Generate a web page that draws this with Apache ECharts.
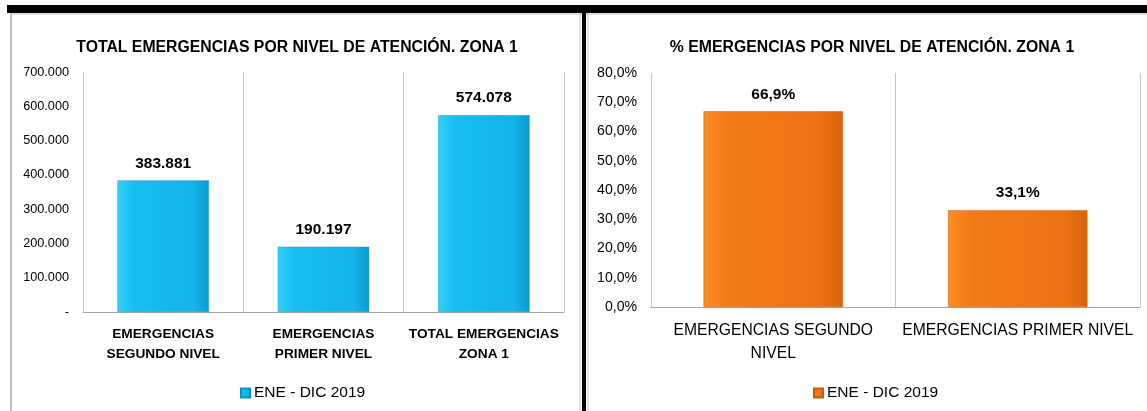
<!DOCTYPE html>
<html>
<head>
<meta charset="utf-8">
<script src="https://cdn.jsdelivr.net/npm/echarts@6/dist/echarts.min.js"></script>
<style>
html, body { margin: 0; padding: 0; background: #fff; }
#main { width: 1147px; height: 411px; }
</style>
</head>
<body>
<div id="main"></div>
<script>
// datos de la imagen
var catsTotal = ['EMERGENCIAS\nSEGUNDO NIVEL', 'EMERGENCIAS\nPRIMER NIVEL', 'TOTAL EMERGENCIAS\nZONA 1'];
var valsTotal = [383881, 190197, 574078];
var catsPct = ['EMERGENCIAS SEGUNDO\nNIVEL', 'EMERGENCIAS PRIMER NIVEL'];
var valsPct = [66.9, 33.1];
var serieName = 'ENE - DIC 2019';
var totalAxis = [0, 700000, 100000];
var pctAxis = [0, 80, 10];

var font = "'Liberation Sans', Arial, sans-serif";

function miles(v) {
    if (v === 0) return '-';
    return String(v).replace(/\B(?=(\d{3})+(?!\d))/g, '.');
}
function pct(v) {
    return v.toFixed(1).replace('.', ',') + '%';
}

var blue = new echarts.graphic.LinearGradient(0, 0, 1, 0, [
    { offset: 0, color: '#34d2f8' },
    { offset: 0.18, color: '#17bdf0' },
    { offset: 0.82, color: '#13b5ea' },
    { offset: 1, color: '#0a9acd' }
]);
var orange = new echarts.graphic.LinearGradient(0, 0, 1, 0, [
    { offset: 0, color: '#f98d22' },
    { offset: 0.18, color: '#f27a18' },
    { offset: 0.82, color: '#ee7214' },
    { offset: 1, color: '#d8630d' }
]);

var myChart = echarts.init(document.getElementById('main'));
var option = {
    backgroundColor: '#fff',
    animation: false,
    textStyle: { fontFamily: font },
    title: [
        {
            text: 'TOTAL EMERGENCIAS POR NIVEL DE ATENCIÓN. ZONA 1',
            left: 292, top: 35, textAlign: 'center',
            textStyle: { fontSize: 15.8, fontWeight: 'bold', color: '#000', fontFamily: font }
        },
        {
            text: '% EMERGENCIAS POR NIVEL DE ATENCIÓN. ZONA 1',
            left: 867, top: 35, textAlign: 'center',
            textStyle: { fontSize: 15.8, fontWeight: 'bold', color: '#000', fontFamily: font }
        }
    ],
    legend: [
        {
            data: [serieName], left: 235, top: 380,
            icon: 'rect', itemWidth: 9, itemHeight: 9, itemGap: 5,
            textStyle: { fontSize: 15.5, color: '#000', fontFamily: font, padding: [0, 0, 0, -1] }
        },
        {
            data: [serieName + ' '], left: 808, top: 380,
            icon: 'rect', itemWidth: 9, itemHeight: 9, itemGap: 5,
            formatter: function (n) { return n.trim(); },
            textStyle: { fontSize: 15.5, color: '#000', fontFamily: font, padding: [0, 0, 0, -1] }
        }
    ],
    grid: [
        { left: 83, top: 72, width: 481, height: 240 },
        { left: 651, top: 73, width: 489, height: 234 }
    ],
    xAxis: [
        {
            type: 'category', gridIndex: 0, data: catsTotal,
            axisLine: { lineStyle: { color: '#a6a6a6' } },
            axisTick: { show: false },
            splitLine: { show: true, interval: 0, lineStyle: { color: '#c4c4c4' } },
            axisLabel: { interval: 0, margin: 12, fontSize: 13.7, fontWeight: 'bold', color: '#000', lineHeight: 20, fontFamily: font }
        },
        {
            type: 'category', gridIndex: 1, data: catsPct,
            axisLine: { lineStyle: { color: '#a6a6a6' } },
            axisTick: { show: false },
            splitLine: { show: true, interval: 0, lineStyle: { color: '#c4c4c4' } },
            axisLabel: { interval: 0, margin: 12, fontSize: 15.7, color: '#000', lineHeight: 23, fontFamily: font }
        }
    ],
    yAxis: [
        {
            type: 'value', gridIndex: 0,
            min: totalAxis[0], max: totalAxis[1], interval: totalAxis[2],
            axisLine: { show: false }, axisTick: { show: false },
            splitLine: { show: false },
            axisLabel: { margin: 14, fontSize: 12.7, color: '#000', formatter: miles, fontFamily: font }
        },
        {
            type: 'value', gridIndex: 1,
            min: pctAxis[0], max: pctAxis[1], interval: pctAxis[2],
            axisLine: { show: false }, axisTick: { show: false },
            splitLine: { show: false },
            axisLabel: { margin: 14, fontSize: 14.1, color: '#000', formatter: pct, fontFamily: font }
        }
    ],
    series: [
        {
            name: serieName, type: 'bar', xAxisIndex: 0, yAxisIndex: 0,
            data: valsTotal, barWidth: '57%',
            itemStyle: { color: blue, borderColor: '#0b92c4', borderWidth: 0.5 },
            label: {
                show: true, position: 'top', distance: 9,
                fontSize: 15.5, fontWeight: 'bold', color: '#000', fontFamily: font,
                formatter: function (p) { return miles(p.value); }
            }
        },
        {
            name: serieName + ' ', type: 'bar', xAxisIndex: 1, yAxisIndex: 1,
            data: valsPct, barWidth: '57%',
            itemStyle: { color: orange, borderColor: '#c75a0b', borderWidth: 0.5 },
            label: {
                show: true, position: 'top', distance: 9,
                fontSize: 15.5, fontWeight: 'bold', color: '#000', fontFamily: font,
                formatter: function (p) { return pct(p.value); }
            }
        }
    ],
    graphic: [
        { type: 'rect', shape: { x: 7, y: 5, width: 1140, height: 8 }, style: { fill: '#000' }, silent: true },
        { type: 'line', shape: { x1: 11, y1: 13, x2: 11, y2: 411 }, style: { stroke: '#7f7f7f', lineWidth: 1 }, silent: true },
        { type: 'line', shape: { x1: 11, y1: 14, x2: 1147, y2: 14 }, style: { stroke: '#bfbfbf', lineWidth: 1 }, silent: true },
        { type: 'line', shape: { x1: 580, y1: 13, x2: 580, y2: 411 }, style: { stroke: '#bfbfbf', lineWidth: 1 }, silent: true },
        { type: 'rect', shape: { x: 582, y: 5, width: 4, height: 406 }, style: { fill: '#000' }, silent: true },
        { type: 'line', shape: { x1: 588, y1: 13, x2: 588, y2: 411 }, style: { stroke: '#bfbfbf', lineWidth: 1 }, silent: true }
    ]
};
myChart.setOption(option);
</script>
</body>
</html>
